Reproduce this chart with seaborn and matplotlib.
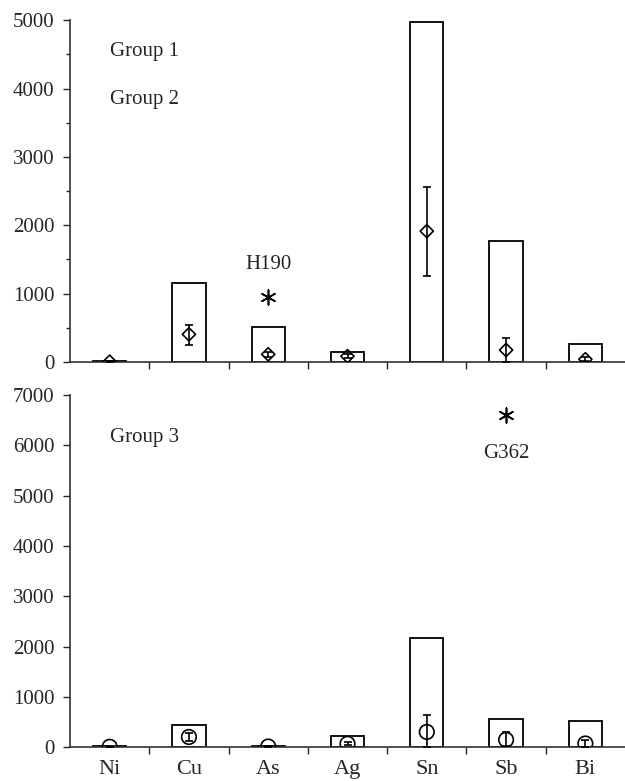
import numpy as np
import pandas as pd
import matplotlib
matplotlib.use("Agg")
import matplotlib.pyplot as plt
import seaborn as sns
from matplotlib.ticker import MultipleLocator, FixedLocator

# data
elements = ["Ni", "Cu", "As", "Ag", "Sn", "Sb", "Bi"]

# top panel (groups 1 & 2)
top_bars = [20, 1155, 515, 145, 4970, 1770, 260]
top_mean = [5, 405, 112, 85, 1915, 175, 40]
top_lo = [0, 250, 80, 60, 1260, 0, 10]
top_hi = [15, 540, 150, 110, 2565, 350, 75]
top_outlier_x = "As"
top_outlier_y = 955
top_outlier_label = "H190"

# bottom panel (group 3)
bot_bars = [30, 430, 30, 210, 2175, 565, 520]
bot_mean = [5, 200, 10, 65, 300, 145, 70]
bot_lo = [0, 120, 0, 35, 0, 30, 0]
bot_hi = [10, 280, 20, 95, 630, 290, 140]
bot_outlier_x = "Sb"
bot_outlier_y = 6600
bot_outlier_label = "G362"

sns.set_style("ticks")
plt.rcParams["font.family"] = ["Liberation Serif", "DejaVu Serif"]
plt.rcParams["font.size"] = 15

fig = plt.figure(figsize=(6.25, 7.81), dpi=100)
ax1 = fig.add_axes([0.112, 0.5365, 0.888, 0.4375])
ax2 = fig.add_axes([0.112, 0.0435, 0.888, 0.4505])


def draw_panel(ax, bars, mean, lo, hi, marker, msize, ymax, minor):
    df = pd.DataFrame({"element": elements, "value": bars})
    sns.barplot(data=df, x="element", y="value", order=elements, ax=ax,
                fill=False, color="black", width=0.42, linewidth=1.3, errorbar=None)
    pos = np.arange(len(elements))
    mean = np.array(mean)
    yerr = [mean - np.array(lo), np.array(hi) - mean]
    ax.errorbar(pos, mean, yerr=yerr, fmt="none", ecolor="black",
                elinewidth=1.2, capsize=3, capthick=1.2, zorder=3)
    ax.scatter(pos, mean, marker=marker, s=msize, facecolors="none",
               edgecolors="black", linewidths=1.2, zorder=4)
    ax.set_xlim(-0.5, len(elements) - 0.5)
    ax.set_ylim(0, ymax)
    ax.yaxis.set_major_locator(MultipleLocator(1000))
    if minor:
        ax.yaxis.set_minor_locator(MultipleLocator(500))
        ax.tick_params(axis="y", which="minor", length=3, width=1, direction="out")
    ax.tick_params(axis="y", which="major", length=5, width=1, direction="out",
                   labelsize=15, pad=6)
    ax.xaxis.set_minor_locator(FixedLocator(pos[:-1] + 0.5))
    ax.tick_params(axis="x", which="major", length=0, labelsize=16, pad=9)
    ax.tick_params(axis="x", which="minor", length=5, width=1, direction="out")
    ax.set_xlabel("")
    ax.set_ylabel("")
    sns.despine(ax=ax)
    for s in ["left", "bottom"]:
        ax.spines[s].set_linewidth(1.2)
        ax.spines[s].set_color("#333333")


draw_panel(ax1, top_bars, top_mean, top_lo, top_hi, "D", 45, 5000, True)
draw_panel(ax2, bot_bars, bot_mean, bot_lo, bot_hi, "o", 110, 7000, False)

ax1.set_xticklabels([])

# outliers
ax1.scatter([elements.index(top_outlier_x)], [top_outlier_y], marker=(6, 2, 0),
            s=110, color="black", linewidths=1.2, zorder=5)
ax1.text(elements.index(top_outlier_x), 1420, top_outlier_label, ha="center",
         va="center", fontsize=15)
ax2.scatter([elements.index(bot_outlier_x)], [bot_outlier_y], marker=(6, 2, 0),
            s=110, color="black", linewidths=1.2, zorder=5)
ax2.text(elements.index(bot_outlier_x), 5830, bot_outlier_label, ha="center",
         va="center", fontsize=15)

# group labels
ax1.text(0, 4540, "Group 1", ha="left", va="center", fontsize=15)
ax1.text(0, 3840, "Group 2", ha="left", va="center", fontsize=15)
ax2.text(0, 6150, "Group 3", ha="left", va="center", fontsize=15)

fig.savefig("out.png", dpi=100)
